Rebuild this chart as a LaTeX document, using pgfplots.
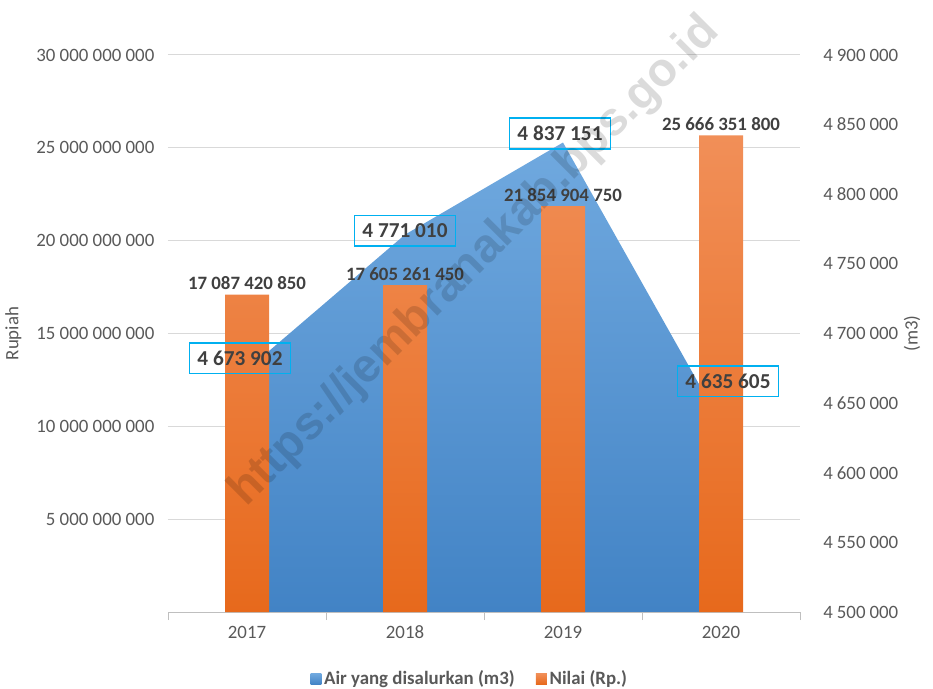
\documentclass[border=0pt]{standalone}
\usepackage{pgfplots}
\pgfplotsset{compat=1.18}
\usepackage{pgfplotstable}
\usepackage{fontspec}
\setmainfont{Carlito}
\newfontfamily\wmfont{Liberation Sans}

\definecolor{tickgray}{HTML}{595959}
\definecolor{lblgray}{HTML}{404040}
\definecolor{gridgray}{HTML}{D9D9D9}
\definecolor{axgray}{HTML}{BFBFBF}
\definecolor{oTop}{HTML}{F18F58}
\definecolor{oBot}{HTML}{E7691C}
\definecolor{bTop}{HTML}{70A9DF}
\definecolor{bBot}{HTML}{4283C5}
\definecolor{boxcyan}{HTML}{00B0F0}

\newcommand\tickfont{\fontsize{14.2}{17}\selectfont}
\newcommand\labfont{\fontsize{16}{19}\selectfont}

\pgfplotsset{
  base/.style={scale only axis, width=474bp, height=417.75bp,
    xmin=-0.5, xmax=3.5, clip=false},
  sqlegend/.style={legend image code/.code={\fill[##1] (0bp,-4.1bp) rectangle (8.2bp,4.1bp);}},
}

% nilai (Rp.), in billions
\pgfplotstableread[col sep=comma]{
x,val,lab
0,17.08742085,17 087 420 850
1,17.60526145,17 605 261 450
2,21.85490475,21 854 904 750
3,25.6663518,25 666 351 800
}\nilai

% air yang disalurkan (m3), in thousands; dx,dy = label box offset (bp)
\pgfplotstableread[col sep=comma]{
x,y,dx,dy,lab
0,4673.902,-5.25,8.6,4 673 902
1,4771.010,0,3,4 771 010
2,4837.151,-2.25,6.75,4 837 151
3,4635.605,5.25,31.5,4 635 605
}\air

\begin{document}
\begin{tikzpicture}
\path[use as bounding box] (-126bp,-57.75bp) rectangle (573.75bp,459bp);

% left axis: grid and labels
\begin{axis}[base, name=ax, ymin=0, ymax=30,
    axis x line=none, axis y line*=left, y axis line style={draw=none},
    ytick={5,10,...,30},
    yticklabels={5 000 000 000,10 000 000 000,15 000 000 000,20 000 000 000,25 000 000 000,30 000 000 000},
    ymajorgrids, grid style={gridgray, line width=0.75bp},
    major tick length=0pt,
    yticklabel style={font=\tickfont, text=tickgray, xshift=-6.75bp},
    ylabel={Rupiah},
    ylabel style={font=\tickfont, text=tickgray, at={(axis description cs:0,0.5)}, anchor=center, yshift=116bp}]
\end{axis}

% right axis: area
\begin{axis}[base, ymin=4500, ymax=4900,
    axis x line=none, axis y line*=right, y axis line style={draw=none},
    major tick length=0pt,
    ytick={4500,4550,...,4900},
    yticklabels={4\kern3pt500\kern3pt000,4\kern3pt550\kern3pt000,4\kern3pt600\kern3pt000,4\kern3pt650\kern3pt000,4\kern3pt700\kern3pt000,4\kern3pt750\kern3pt000,4\kern3pt800\kern3pt000,4\kern3pt850\kern3pt000,4\kern3pt900\kern3pt000},
    yticklabel style={font=\tickfont, text=tickgray, xshift=14bp},
    ylabel={(m3)},
    ylabel style={font=\tickfont, text=tickgray, at={(axis description cs:1,0.5)}, anchor=center, yshift=-84bp}]
\addplot[draw=none, mark=none, top color=bTop, bottom color=bBot] coordinates {
  (0,4500) (0,4673.902) (1,4771.010) (2,4837.151) (3,4635.605) (3,4500)
};
\end{axis}

% bars, x axis, legend
\begin{axis}[base, ymin=0, ymax=30,
    axis y line=none, axis x line*=bottom,
    x axis line style={-, draw=axgray, line width=0.75bp},
    xtick={0,1,2,3}, xticklabels={2017,2018,2019,2020},
    major tick length=0pt,
    minor xtick={-0.5,0.5,1.5,2.5,3.5},
    minor tick length=6bp, tick align=outside,
    minor tick style={draw=axgray, line width=0.75bp},
    xticklabel style={font=\tickfont, text=tickgray, yshift=-7bp},
    legend style={at={(0.478,-0.12)}, anchor=center, draw=none, fill=none,
      legend columns=2, font=\bfseries\tickfont, text=tickgray,
      /tikz/every even column/.append style={column sep=14bp}},
    sqlegend]
\addlegendimage{draw=none, top color=bTop, bottom color=bBot}
\addlegendentry{Air yang disalurkan (m3)}
\addplot[ybar, bar width=33bp, draw=none, top color=oTop, bottom color=oBot,
    sqlegend,
    nodes near coords, point meta=explicit symbolic,
    every node near coord/.append style={font=\bfseries\tickfont, text=lblgray}]
  table[x=x, y=val, meta=lab] {\nilai};
\addlegendentry{Nilai (Rp.)}
\end{axis}

% boxed labels for the area
\begin{axis}[base, ymin=4500, ymax=4900, hide axis]
\addplot[draw=none, mark=none, nodes near coords, point meta=explicit symbolic,
    visualization depends on={\thisrow{dx} \as \dx},
    visualization depends on={\thisrow{dy} \as \dy},
    nodes near coords style={anchor=center, xshift=\dx bp, yshift=\dy bp,
      draw=boxcyan, line width=1.1bp, font=\bfseries\labfont, text=lblgray,
      inner xsep=6bp, inner ysep=0pt, minimum height=23bp}]
  table[x=x, y=y, meta=lab] {\air};
\end{axis}

\node[rotate=45, text=black, opacity=0.14, font=\wmfont\bfseries\fontsize{35.5}{38}\selectfont]
  at ([xshift=230.25bp, yshift=262.5bp]ax.south west) {https://jembranakab.bps.go.id};
\end{tikzpicture}
\end{document}
